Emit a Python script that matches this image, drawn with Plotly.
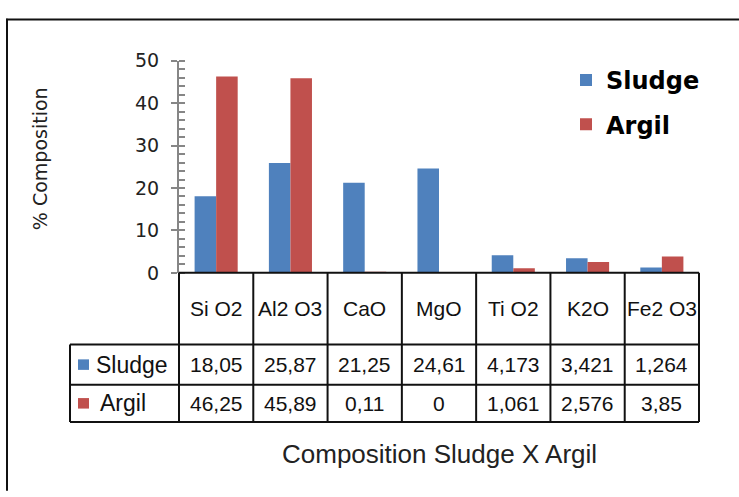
import plotly.graph_objects as go

# ---- data -------------------------------------------------------------
oxides = ["Si O2", "Al2 O3", "CaO", "MgO", "Ti O2", "K2O", "Fe2 O3"]
sludge = [18.05, 25.87, 21.25, 24.61, 4.173, 3.421, 1.264]
argil = [46.25, 45.89, 0.11, 0, 1.061, 2.576, 3.85]
series_names = ["Sludge", "Argil"]
series_values = [sludge, argil]
series_colors = ["#4F81BD", "#C0504D"]
y_ticks = [0, 10, 20, 30, 40, 50]

# ---- page geometry (pixels) ------------------------------------------
W, H = 739, 497
PLOT_X0, PLOT_X1 = 179, 699      # plot area / data table columns
PLOT_TOP, PLOT_ZERO = 52, 274    # y = 50 and y = 0
ROW_HEAD, ROW_S, ROW_A = 349, 391, 430   # bottoms of the table rows
KEY_X0 = 70                      # left edge of the table key column


def px(x):
    return x / W


def py(y):
    return 1 - y / H


def num_text(v):
    return f"{v:g}".replace(".", ",")


fig = go.Figure()
for name, vals, col in zip(series_names, series_values, series_colors):
    fig.add_trace(go.Bar(
        x=oxides, y=vals, name=name, legendgroup=name,
        marker=dict(color=col, line=dict(width=0)),
        hoverinfo="skip",
    ))

# helper trace so the second (tick-only) axis is drawn
fig.add_trace(go.Scatter(x=[oxides[0]], y=[0], yaxis="y2", mode="markers",
                         marker=dict(opacity=0), showlegend=False,
                         hoverinfo="skip"))

shapes = []
annotations = []
line_style = dict(color="#111111", width=2)


def hline(y, xa, xb, style=line_style):
    shapes.append(dict(type="line", xref="paper", yref="paper",
                       x0=px(xa), x1=px(xb), y0=py(y), y1=py(y), line=style))


def vline(x, ya, yb, style=line_style):
    shapes.append(dict(type="line", xref="paper", yref="paper",
                       x0=px(x), x1=px(x), y0=py(ya), y1=py(yb), line=style))


# outer frame (top and left edges)
hline(9, 6, W + 5)
vline(7, 8, H + 5)

# data table grid
n = len(oxides)
col_w = (PLOT_X1 - PLOT_X0) / n
hline(PLOT_ZERO, PLOT_X0, PLOT_X1)
for yy in (ROW_HEAD, ROW_S, ROW_A):
    hline(yy, KEY_X0, PLOT_X1)
vline(KEY_X0, ROW_HEAD, ROW_A)
for k in range(n + 1):
    vline(PLOT_X0 + k * col_w, PLOT_ZERO, ROW_A)

table_font = dict(family="Liberation Sans, Arial, sans-serif", size=21,
                  color="#111111")
key_font = dict(family="Liberation Sans, Arial, sans-serif", size=23,
                color="#111111")
head_mid = (PLOT_ZERO + ROW_HEAD) / 2
row_mids = [(ROW_HEAD + ROW_S) / 2, (ROW_S + ROW_A) / 2]

for k, ox in enumerate(oxides):
    cx = PLOT_X0 + (k + 0.5) * col_w
    annotations.append(dict(x=px(cx), y=py(head_mid), xref="paper",
                            yref="paper", text=ox, showarrow=False,
                            font=table_font, xanchor="center",
                            yanchor="middle"))
    for vals, ym in zip(series_values, row_mids):
        annotations.append(dict(x=px(cx), y=py(ym), xref="paper",
                                yref="paper", text=num_text(vals[k]),
                                showarrow=False, font=table_font,
                                xanchor="center", yanchor="middle"))

# table row keys
for name, col, ym, tx in zip(series_names, series_colors, row_mids, (94, 98)):
    shapes.append(dict(type="rect", xref="paper", yref="paper",
                       x0=px(78), x1=px(89), y0=py(ym + 5.5), y1=py(ym - 5.5),
                       fillcolor=col, line=dict(width=0)))
    annotations.append(dict(x=px(tx), y=py(ym), xref="paper", yref="paper",
                            text=name, showarrow=False, font=key_font,
                            xanchor="left", yanchor="middle"))

# axis titles
annotations.append(dict(x=px(40), y=py(155),
                        xref="paper", yref="paper", text="% Composition",
                        textangle=-90, showarrow=False,
                        font=dict(family="DejaVu Sans", size=19,
                                  color="#222222"),
                        xanchor="center", yanchor="middle"))
annotations.append(dict(x=px((PLOT_X0 + PLOT_X1) / 2), y=py(463),
                        xref="paper", yref="paper",
                        text="Composition Sludge X Argil", showarrow=False,
                        font=dict(family="Liberation Sans, Arial", size=26,
                                  color="#222222"),
                        xanchor="center", yanchor="middle"))

y_common = dict(domain=[py(PLOT_ZERO), py(PLOT_TOP)], range=[0, 50],
                tickvals=y_ticks, showgrid=False, zeroline=False)

fig.update_layout(
    width=W, height=H,
    margin=dict(l=0, r=0, t=0, b=0),
    paper_bgcolor="white", plot_bgcolor="rgba(0,0,0,0)",
    barmode="group", bargap=0.42, bargroupgap=0,
    showlegend=True,
    legend=dict(x=px(566), y=py(49), xanchor="left", yanchor="top",
                font=dict(family="DejaVu Sans", size=24, color="#000000",
                          weight="bold"),
                bgcolor="rgba(0,0,0,0)", tracegroupgap=10,
                itemwidth=30),
    xaxis=dict(domain=[px(PLOT_X0), px(PLOT_X1)], range=[-0.5, n - 0.5],
               showticklabels=False, ticks="", showline=False,
               showgrid=False, zeroline=False),
    yaxis=dict(**y_common,
               showline=True, linecolor="#868686", linewidth=2,
               ticks="outside", ticklen=6, tickwidth=2, tickcolor="#868686",
               minor=dict(dtick=2, ticks="inside", ticklen=6, tickwidth=1.5,
                          tickcolor="#868686"),
               tickfont=dict(family="DejaVu Sans", size=19, color="#222222"),
               ticklabelstandoff=8),
    yaxis2=dict(**y_common, overlaying="y", anchor="x", side="left",
                showline=False, showticklabels=False,
                ticks="inside", ticklen=6, tickwidth=2, tickcolor="#868686"),
    shapes=shapes,
    annotations=annotations,
)

fig.write_html("out.html")
